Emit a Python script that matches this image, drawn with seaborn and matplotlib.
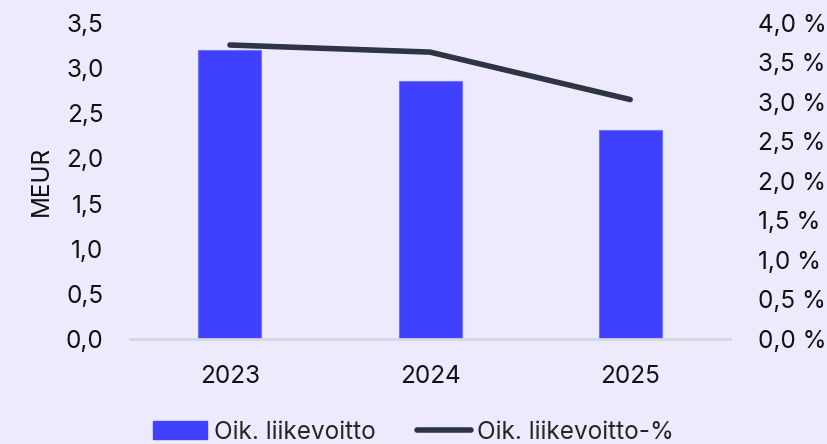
import numpy as np
import pandas as pd
import matplotlib
matplotlib.use("Agg")
import matplotlib.pyplot as plt
from matplotlib.patches import Patch
from matplotlib.lines import Line2D
from matplotlib.ticker import FuncFormatter, MultipleLocator
import seaborn as sns

years = ["2023", "2024", "2025"]
adj_ebit = [3.2, 2.86, 2.31]          # MEUR
adj_ebit_pct = [3.72, 3.63, 3.03]     # %

BG = "#ECEAFC"
BAR = "#4040FF"
LINE = "#2E3440"
TXT = "#111111"
FS = 17.5

sns.set_theme(style="white")
plt.rcParams["font.family"] = ["Inter", "Roboto", "DejaVu Sans"]
plt.rcParams["font.size"] = FS

df = pd.DataFrame({"year": years, "ebit": adj_ebit, "pct": adj_ebit_pct})

fig = plt.figure(figsize=(8.27, 4.44), dpi=100, facecolor=BG)
ax = fig.add_axes([0.157, 0.2365, 0.726, 0.712])
ax.set_facecolor(BG)

sns.barplot(data=df, x="year", y="ebit", color=BAR, saturation=1,
            width=0.315, ax=ax, edgecolor="#7070FF", linewidth=0.8)

ax2 = ax.twinx()
sns.lineplot(x=np.arange(len(years)), y=df["pct"], ax=ax2, color=LINE,
             linewidth=4, solid_capstyle="round")

ax.set_xlim(-0.5, 2.5)
ax.set_ylim(0, 3.5)
ax2.set_ylim(0, 4.0)
ax.yaxis.set_major_locator(MultipleLocator(0.5))
ax2.yaxis.set_major_locator(MultipleLocator(0.5))
ax.yaxis.set_major_formatter(FuncFormatter(lambda v, p: f"{v:.1f}".replace(".", ",")))
ax2.yaxis.set_major_formatter(FuncFormatter(lambda v, p: f"{v:.1f} %".replace(".", ",")))

for a in (ax, ax2):
    for s in a.spines.values():
        s.set_visible(False)
    a.tick_params(length=0, labelsize=FS, colors=TXT)
ax.spines["bottom"].set_visible(True)
ax.spines["bottom"].set_color("#D6D6DE")
ax.spines["bottom"].set_linewidth(2)

ax.tick_params(axis="y", pad=19)
ax.tick_params(axis="x", pad=19)
ax2.tick_params(axis="y", pad=20)
ax.set_xlabel("")
ax.set_ylabel("MEUR", fontsize=FS, color=TXT, labelpad=9)
ax2.set_ylabel("")

handles = [Patch(facecolor=BAR, edgecolor=BAR),
           Line2D([0], [0], color=LINE, linewidth=4, solid_capstyle="round")]
fig.legend(handles, ["Oik. liikevoitto", "Oik. liikevoitto-%"],
           loc="center", bbox_to_anchor=(0.5, 0.027), ncol=2,
           frameon=False, fontsize=FS, handlelength=2.25, handletextpad=0.25,
           columnspacing=1.7, handleheight=0.7, borderpad=0)

fig.savefig("out.png", dpi=100, facecolor=BG)
